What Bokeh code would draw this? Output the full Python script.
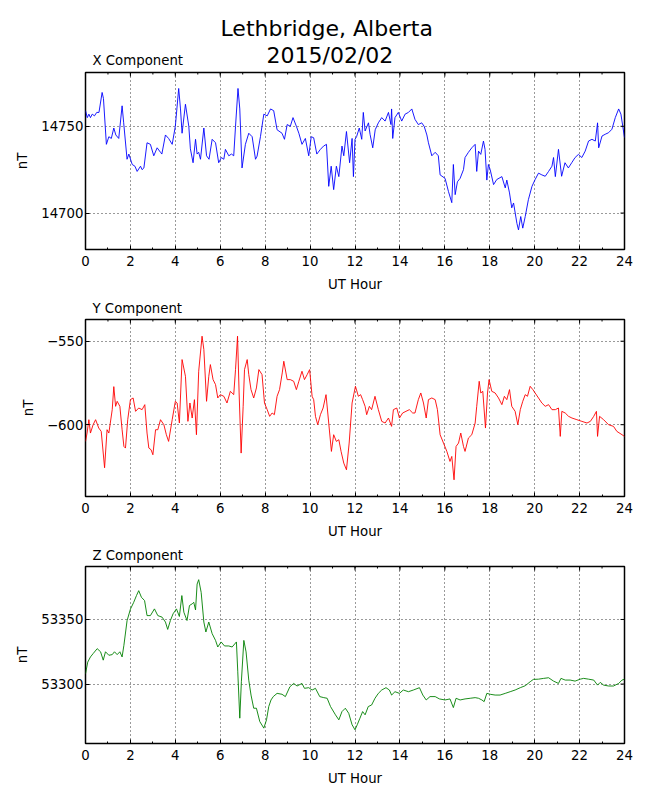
from bokeh.plotting import figure
from bokeh.models import FixedTicker, Range1d, Title
from bokeh.layouts import column, row
from bokeh.embed import file_html
from bokeh.resources import INLINE

FONT = "DejaVu Sans"

main_title = ["Lethbridge, Alberta", "2015/02/02"]
x_axis_label = "UT Hour"
y_axis_label = "nT"
hour_ticks = list(range(0, 25, 2))
hour_minor = list(range(0, 25))

x_title = "X Component"
x_hours = [0.0, 0.08, 0.15, 0.22, 0.3, 0.4, 0.5, 0.6, 0.74, 0.8, 0.93, 1.04, 1.15, 1.26, 1.35, 1.48, 1.63, 1.7,
           1.85, 1.93, 2.08, 2.2, 2.3, 2.45, 2.52, 2.6, 2.74, 2.89, 3.04, 3.19, 3.34, 3.4, 3.56, 3.7, 3.86, 4.0,
           4.15, 4.23, 4.3, 4.45, 4.6, 4.67, 4.79, 4.9, 4.97, 5.04, 5.12, 5.27, 5.39, 5.5, 5.64, 5.79, 5.93, 6.05,
           6.16, 6.23, 6.38, 6.5, 6.6, 6.68, 6.79, 6.87, 6.97, 7.12, 7.27, 7.42, 7.57, 7.64, 7.79, 7.94, 8.09,
           8.24, 8.38, 8.53, 8.75, 8.86, 8.98, 9.12, 9.24, 9.39, 9.5, 9.64, 9.79, 9.94, 10.05, 10.16, 10.3,
           10.46, 10.6, 10.73, 10.83, 10.94, 11.05, 11.17, 11.28, 11.42, 11.5, 11.62, 11.76, 11.87, 11.93,
           12.0, 12.07, 12.19, 12.3, 12.37, 12.45, 12.6, 12.67, 12.79, 12.9, 13.04, 13.19, 13.34, 13.49, 13.6,
           13.63, 13.68, 13.78, 13.93, 14.08, 14.23, 14.38, 14.53, 14.67, 14.82, 14.97, 15.08, 15.2, 15.27,
           15.42, 15.57, 15.71, 15.79, 16.01, 16.16, 16.31, 16.38, 16.46, 16.56, 16.68, 16.83, 16.9, 17.05,
           17.2, 17.35, 17.42, 17.5, 17.6, 17.72, 17.79, 17.87, 17.94, 18.02, 18.17, 18.31, 18.54, 18.69,
           18.76, 18.88, 18.98, 19.06, 19.21, 19.28, 19.38, 19.47, 19.58, 19.72, 19.88, 20.02, 20.17, 20.32,
           20.47, 20.62, 20.77, 20.84, 20.92, 21.06, 21.2, 21.35, 21.5, 21.65, 21.8, 21.95, 22.1, 22.25, 22.4,
           22.55, 22.7, 22.8, 22.85, 23.0, 23.14, 23.29, 23.44, 23.59, 23.74, 23.84, 24.0]
x_values = [14759, 14755, 14757, 14755, 14757, 14756, 14758, 14758, 14769.5, 14766, 14739.6, 14744, 14743,
            14749, 14745, 14743, 14761.8, 14752, 14731, 14734, 14728, 14727, 14724, 14727, 14725, 14726,
            14740.5, 14739.6, 14733, 14737.6, 14735, 14734, 14745, 14743, 14739.6, 14750, 14771.8, 14760,
            14746, 14762.7, 14750, 14737, 14729, 14742.5, 14734, 14735, 14731, 14749, 14733, 14731, 14742.5,
            14740.5, 14729, 14732, 14731, 14736.7, 14733, 14734, 14733, 14750, 14771.8, 14760, 14726, 14739.6,
            14746, 14744, 14731, 14732.8, 14744, 14757, 14756, 14760, 14759, 14748, 14746, 14742.5, 14751,
            14750, 14755, 14750, 14746, 14739.6, 14743, 14733, 14744, 14743.4, 14734, 14736.7, 14738.6,
            14739.6, 14715.4, 14727, 14713.5, 14727, 14721, 14738.6, 14733, 14747, 14729, 14743, 14721,
            14742.5, 14744, 14749, 14742.5, 14758, 14747.3, 14752, 14745.4, 14737.6, 14748, 14752, 14755,
            14753, 14758, 14751, 14760, 14743, 14755, 14758, 14753, 14757, 14758, 14760, 14754, 14751, 14752,
            14750, 14745, 14740.5, 14733, 14735, 14733, 14722, 14720, 14712.5, 14706, 14728, 14710.6, 14718,
            14720, 14725, 14732, 14735, 14737.6, 14739.6, 14724, 14735.7, 14733.8, 14741.5, 14736.7, 14719,
            14728, 14725, 14716.4, 14719.3, 14721, 14714.5, 14719, 14711.6, 14703, 14705.8, 14694, 14690.3,
            14698, 14691.3, 14698, 14707.7, 14715.4, 14719.3, 14723, 14722, 14721.2, 14724, 14727, 14732,
            14721, 14736.7, 14721.2, 14729, 14726, 14729, 14732, 14733.8, 14732, 14735.7, 14741.5, 14742.5,
            14741.5, 14752, 14737.6, 14744.4, 14745.4, 14746.3, 14748.3, 14755, 14760, 14757, 14743.5]
x_range = (14679, 14781)
x_yticks = [14700, 14750]

y_title = "Y Component"
y_hours = [0.0, 0.07, 0.15, 0.22, 0.34, 0.45, 0.59, 0.7, 0.85, 0.96, 1.04, 1.19, 1.26, 1.34, 1.41, 1.53, 1.63,
           1.71, 1.78, 1.88, 2.0, 2.12, 2.23, 2.37, 2.52, 2.64, 2.74, 2.82, 2.92, 3.0, 3.12, 3.22, 3.34, 3.49,
           3.6, 3.7, 3.86, 4.0, 4.08, 4.18, 4.3, 4.45, 4.56, 4.65, 4.75, 4.85, 4.94, 5.04, 5.19, 5.27, 5.39,
           5.49, 5.56, 5.68, 5.79, 5.89, 6.0, 6.16, 6.3, 6.45, 6.6, 6.68, 6.77, 6.84, 6.93, 7.02, 7.08, 7.2,
           7.27, 7.37, 7.49, 7.61, 7.72, 7.86, 7.97, 8.09, 8.2, 8.31, 8.41, 8.53, 8.64, 8.76, 8.83, 8.98, 9.12,
           9.27, 9.39, 9.5, 9.64, 9.75, 9.87, 9.98, 10.09, 10.16, 10.24, 10.34, 10.46, 10.58, 10.71, 10.83,
           10.95, 11.05, 11.17, 11.28, 11.38, 11.5, 11.62, 11.74, 11.87, 12.02, 12.15, 12.25, 12.34, 12.45,
           12.52, 12.64, 12.74, 12.89, 13.04, 13.19, 13.34, 13.49, 13.63, 13.71, 13.86, 13.98, 14.12, 14.27,
           14.42, 14.57, 14.67, 14.82, 14.93, 15.05, 15.17, 15.27, 15.42, 15.57, 15.67, 15.79, 15.94, 16.09,
           16.23, 16.31, 16.41, 16.5, 16.61, 16.71, 16.83, 16.9, 17.05, 17.2, 17.35, 17.42, 17.53, 17.6,
           17.69, 17.81, 17.9, 17.97, 18.09, 18.24, 18.39, 18.54, 18.65, 18.76, 18.88, 18.98, 19.13, 19.25,
           19.36, 19.47, 19.58, 19.68, 19.8, 19.92, 20.02, 20.17, 20.32, 20.47, 20.62, 20.77, 20.92, 21.06,
           21.14, 21.21, 21.36, 21.51, 21.66, 21.88, 22.1, 22.33, 22.48, 22.63, 22.75, 22.8, 22.89, 23.07,
           23.29, 23.51, 23.66, 23.89, 24.0]
y_values = [-610, -605, -597, -605, -600, -597, -602, -604, -625.8, -603, -605, -591, -577.2, -589, -586, -589,
            -603, -613, -614, -597, -585, -584, -592, -590, -591, -588, -605, -614, -615, -618, -603, -603,
            -597, -600, -606, -610, -597, -586, -587, -599, -561, -571, -598, -587, -596, -585, -606, -568,
            -547, -555, -586, -571, -564, -573, -576, -584, -582, -583, -587, -580, -582, -567, -547, -581,
            -617, -589, -567, -561, -570, -579, -584, -578, -567, -570, -587, -591, -595, -593, -594, -583,
            -579, -569, -562, -573, -573, -574, -579, -574, -568, -573, -570, -567, -583, -585, -595, -600,
            -594, -590, -582, -599, -616, -606, -610, -609, -616, -623, -627, -611, -587, -577, -583, -582,
            -585, -589, -594, -589, -591, -583, -591, -598, -599, -596, -601, -591, -590, -596, -593, -592,
            -591, -593, -593, -585, -581, -587, -596, -585, -584, -585, -591, -606, -611, -616, -622, -619,
            -633, -613, -611, -605, -613, -616, -608, -606, -599, -589, -574, -581, -580, -602, -581, -573,
            -580, -581, -584, -588, -583, -585, -579, -589, -592, -600, -591, -586, -582, -583, -577, -579,
            -581, -584, -587, -589, -588, -591, -591, -590, -607, -592, -593, -595, -596, -597, -598, -599,
            -598, -595, -592, -607, -595, -597, -600, -601, -604, -606, -607]
y_range = (-643, -537)
y_yticks = [-600, -550]
y_tick_text = {-600: "\u2212600", -550: "\u2212550"}

z_title = "Z Component"
z_hours = [0.0, 0.1, 0.22, 0.34, 0.52, 0.67, 0.79, 0.89, 1.04, 1.19, 1.29, 1.41, 1.53, 1.63, 1.71, 1.85, 2.0,
           2.14, 2.27, 2.37, 2.49, 2.63, 2.74, 2.89, 3.07, 3.22, 3.41, 3.56, 3.66, 3.78, 3.9, 4.05, 4.18, 4.29,
           4.38, 4.52, 4.63, 4.75, 4.82, 4.9, 4.97, 5.04, 5.15, 5.27, 5.36, 5.49, 5.64, 5.79, 5.89, 6.04, 6.19,
           6.38, 6.53, 6.72, 6.78, 6.87, 6.94, 7.05, 7.15, 7.27, 7.37, 7.49, 7.61, 7.76, 7.94, 8.06, 8.16, 8.26,
           8.36, 8.53, 8.75, 8.9, 9.1, 9.27, 9.42, 9.64, 9.75, 9.94, 10.09, 10.24, 10.43, 10.61, 10.76, 10.91,
           11.13, 11.28, 11.42, 11.57, 11.72, 11.87, 12.0, 12.1, 12.22, 12.34, 12.45, 12.59, 12.74, 12.89,
           13.04, 13.19, 13.38, 13.53, 13.63, 13.78, 13.98, 14.15, 14.38, 14.6, 14.87, 15.02, 15.17, 15.34,
           15.57, 15.76, 16.01, 16.23, 16.38, 16.5, 16.68, 16.9, 17.13, 17.35, 17.5, 17.65, 17.75, 17.87,
           18.02, 18.24, 18.46, 18.69, 18.91, 19.13, 19.36, 19.58, 19.8, 19.94, 20.17, 20.4, 20.62, 20.84,
           21.06, 21.17, 21.36, 21.58, 21.8, 22.03, 22.18, 22.4, 22.63, 22.8, 22.92, 23.07, 23.29, 23.51,
           23.74, 23.89, 24.0]
z_values = [53308, 53317, 53321, 53323.6, 53327.4, 53325, 53318.5, 53325, 53322.3, 53322.8, 53325, 53322.8,
            53325, 53321, 53330, 53349, 53358, 53363, 53368.5, 53372.3, 53367.2, 53364.6, 53353, 53353,
            53358.2, 53353, 53351.8, 53348, 53342.3, 53349.2, 53354.4, 53358.2, 53352.3, 53368.5, 53355.6,
            53349.2, 53360.8, 53362.1, 53363.3, 53357.4, 53377.4, 53380.8, 53371, 53348, 53340.3, 53348,
            53339, 53333.8, 53328.7, 53332.6, 53329.5, 53329.5, 53328.7, 53332.6, 53309.5, 53273.6, 53301.8,
            53333.8, 53324.9, 53303, 53291.5, 53281.3, 53281.3, 53271, 53265.9, 53272.3, 53282.6, 53287.7,
            53290.3, 53292.8, 53292.1, 53290.3, 53297.9, 53300.5, 53298.5, 53300.5, 53296.7, 53297.2,
            53295.4, 53296.7, 53290.3, 53289.5, 53289, 53282.6, 53276.2, 53272.3, 53278.7, 53281.3, 53277.4,
            53268.5, 53264.6, 53268.5, 53273.6, 53278.7, 53276.2, 53282.6, 53283.8, 53289, 53292.8, 53295.4,
            53297.2, 53295.4, 53291.5, 53294.1, 53292.8, 53295.4, 53294.1, 53295.4, 53297.2, 53291.5,
            53287.7, 53290.3, 53290.3, 53288.5, 53287.7, 53288.5, 53281.8, 53289, 53287.7, 53288.5, 53289,
            53289.5, 53289, 53287.7, 53286.4, 53292.8, 53292.1, 53291.5, 53291.5, 53292.8, 53294.1, 53295.4,
            53297.2, 53298.7, 53301.8, 53303.6, 53303.8, 53304.4, 53304.9, 53302.3, 53300.5, 53304.4,
            53303.1, 53303.1, 53302.3, 53303.8, 53304.4, 53303.8, 53303.1, 53299.2, 53301.3, 53299.2,
            53298.5, 53298.5, 53300.5, 53303.1, 53303.8]
z_range = (53254, 53391)
z_yticks = [53300, 53350]

FS = "13.3px"
W = 642
LEFT = 85
RIGHT = 18
FRAME_H = 178
BOTTOM = 44


def style_axis(ax, ticker, minor, standoff):
    ax.ticker = ticker
    ax.axis_line_color = None
    ax.major_tick_in = 4
    ax.major_tick_out = 0
    ax.major_tick_line_color = "black"
    if minor:
        ax.minor_tick_in = 2
        ax.minor_tick_out = 0
        ax.minor_tick_line_color = "black"
    else:
        ax.minor_tick_line_color = None
    ax.major_label_text_font = FONT
    ax.major_label_text_color = "black"
    ax.major_label_text_font_size = FS
    ax.major_label_standoff = standoff
    ax.axis_label_text_font = FONT
    ax.axis_label_text_font_size = FS
    ax.axis_label_text_font_style = "normal"
    ax.axis_label_text_color = "black"
    ax.axis_label_standoff = 8


def blank_fig(width, height, left, right, top):
    f = figure(width=width, height=height, output_backend="svg", toolbar_location=None, title=None,
               x_axis_location=None, y_axis_location=None,
               min_border_left=left, min_border_right=right, min_border_top=top, min_border_bottom=0,
               outline_line_color=None, background_fill_color="white", border_fill_color="white")
    f.grid.visible = False
    return f


def make_panel(title, hours, values, color, yr, yticks, top_border, overrides=None):
    height = top_border + FRAME_H + BOTTOM
    p = figure(width=W, height=height, output_backend="svg", toolbar_location=None, title=None,
               x_range=Range1d(0, 24), y_range=Range1d(*yr),
               min_border_left=LEFT, min_border_right=RIGHT, min_border_top=top_border,
               min_border_bottom=BOTTOM, background_fill_color="white", border_fill_color="white")
    if title:
        p.add_layout(Title(text=title, align="left", offset=7, standoff=8, text_font=FONT,
                           text_font_size=FS, text_font_style="normal", text_color="black"), "above")
    p.outline_line_color = "black"
    p.outline_line_width = 1.5

    xt = FixedTicker(ticks=hour_ticks, minor_ticks=hour_minor)
    yt = FixedTicker(ticks=yticks, minor_ticks=[])

    for g, t in ((p.xgrid[0], xt), (p.ygrid[0], yt)):
        g.ticker = t
        g.grid_line_color = "black"
        g.grid_line_dash = "1 3"
        g.grid_line_width = 0.8
        g.grid_line_alpha = 1

    p.line(hours, values, line_color=color, line_width=0.9)

    # inward ticks on the top and right edges, taken from the same tick lists
    p.ray(x=hour_minor, y=yr[1], length=2, length_units="screen", angle=-90, angle_units="deg",
          line_color="black", line_width=1)
    p.ray(x=hour_ticks, y=yr[1], length=4, length_units="screen", angle=-90, angle_units="deg",
          line_color="black", line_width=1)
    p.ray(x=24, y=yticks, length=4, length_units="screen", angle=180, angle_units="deg",
          line_color="black", line_width=1)

    style_axis(p.xaxis[0], xt, True, 6)
    p.xaxis[0].axis_label = x_axis_label
    style_axis(p.yaxis[0], yt, False, 2)
    p.yaxis[0].axis_label = y_axis_label
    if overrides:
        p.yaxis[0].major_label_overrides = overrides
    return p


# header: first subplot title on the left, main title in the middle
HEAD_H = 70
SPLIT = 210
head_left = blank_fig(SPLIT, HEAD_H, LEFT, 0, HEAD_H - 3)
head_left.add_layout(Title(text=x_title, align="left", offset=7, standoff=0, text_font=FONT,
                           text_font_size=FS, text_font_style="normal", text_color="black"), "above")
head_right = blank_fig(W - SPLIT, HEAD_H, 0, 0, HEAD_H - 5)
head_right.add_layout(Title(text=main_title[1], align="left", offset=56, standoff=0, text_font=FONT,
                            text_font_size="22px", text_font_style="normal", text_color="black"), "above")
head_right.add_layout(Title(text=main_title[0], align="left", offset=10, standoff=0, text_font=FONT,
                            text_font_size="22px", text_font_style="normal", text_color="black"), "above")

p1 = make_panel(None, x_hours, x_values, "#0000ff", x_range, x_yticks, 2)
p2 = make_panel(y_title, y_hours, y_values, "#ff0000", y_range, y_yticks, 25, y_tick_text)
p3 = make_panel(z_title, z_hours, z_values, "#008000", z_range, z_yticks, 25)

layout = column(row(head_left, head_right, spacing=0), p1, p2, p3, spacing=0)
open("out.html", "w").write(file_html(layout, INLINE))
